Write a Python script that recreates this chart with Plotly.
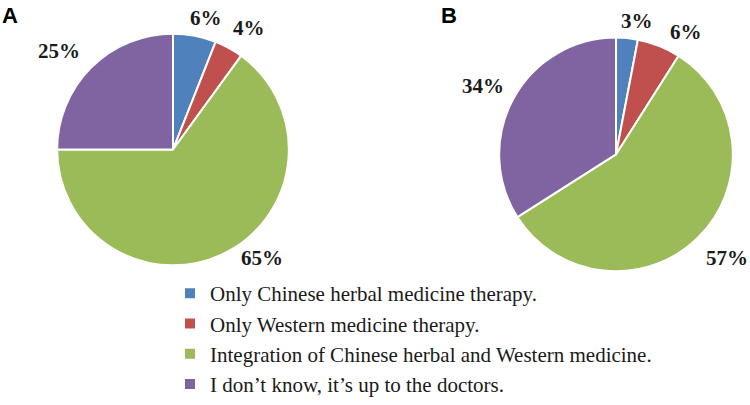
import math
import plotly.graph_objects as go

categories = [
    "Only Chinese herbal medicine therapy.",
    "Only Western medicine therapy.",
    "Integration of Chinese herbal and Western medicine.",
    "I don\u2019t know, it\u2019s up to the doctors.",
]
values_a = [6, 4, 65, 25]
values_b = [3, 6, 57, 34]
colors = ["#4F81BD", "#C0504D", "#9BBB59", "#8064A2"]

W, H = 750, 405
LABEL_FONT = dict(family="Liberation Serif", size=21, color="#1a1a1a", weight="bold")

# label placement styling: radial factor plus small pixel nudges (best-fit style)
nudges_a = [(6, 7), (7, 2), (24, -18), (-13, 1)]
nudges_b = [(7, 9), (17, 10), (9, 3), (-7, 0)]


def dom_x(cx, r):
    return [(cx - r) / W, (cx + r) / W]


def dom_y(cy, r):
    return [1 - (cy + r) / H, 1 - (cy - r) / H]


pies = [
    dict(values=values_a, cx=173, cy=151, r=117, k=1.22, nudges=nudges_a, legend=True),
    dict(values=values_b, cx=616, cy=156, r=118, k=1.22, nudges=nudges_b, legend=False),
]

fig = go.Figure()
for p in pies:
    fig.add_trace(go.Pie(
        labels=categories,
        values=p["values"],
        sort=False,
        direction="clockwise",
        rotation=0,
        marker=dict(colors=colors, line=dict(color="white", width=2)),
        textinfo="none",
        hoverinfo="label+value",
        showlegend=p["legend"],
        domain=dict(x=dom_x(p["cx"], p["r"]), y=dom_y(p["cy"], p["r"])),
    ))
    total = sum(p["values"])
    cum = 0
    for v, (nx, ny) in zip(p["values"], p["nudges"]):
        mid = (cum + v / 2) / total * 2 * math.pi
        cum += v
        px = p["cx"] + p["k"] * p["r"] * math.sin(mid) + nx
        py = p["cy"] - p["k"] * p["r"] * math.cos(mid) + ny
        fig.add_annotation(text=f"{v}%", x=px / W, y=1 - py / H, xref="paper", yref="paper",
                           xanchor="center", yanchor="middle", showarrow=False, font=LABEL_FONT)

fig.add_annotation(text="<b>A</b>", x=0 / W, y=1 - 1 / H, xref="paper", yref="paper",
                   xanchor="left", yanchor="top", showarrow=False,
                   font=dict(family="Liberation Sans", size=22, color="black"))
fig.add_annotation(text="<b>B</b>", x=439 / W, y=1 - 1 / H, xref="paper", yref="paper",
                   xanchor="left", yanchor="top", showarrow=False,
                   font=dict(family="Liberation Sans", size=22, color="black"))

fig.update_layout(
    width=W, height=H,
    margin=dict(l=0, r=0, t=0, b=0),
    paper_bgcolor="white",
    plot_bgcolor="white",
    showlegend=True,
    legend=dict(
        x=170 / W, y=1 - 276 / H, xanchor="left", yanchor="top",
        font=dict(family="Liberation Serif", size=21, color="#1a1a1a"),
        itemwidth=30,
        bgcolor="rgba(0,0,0,0)",
    ),
)

fig.write_html("out.html", config={"displayModeBar": False},
               post_script="document.body.style.margin='0';")
